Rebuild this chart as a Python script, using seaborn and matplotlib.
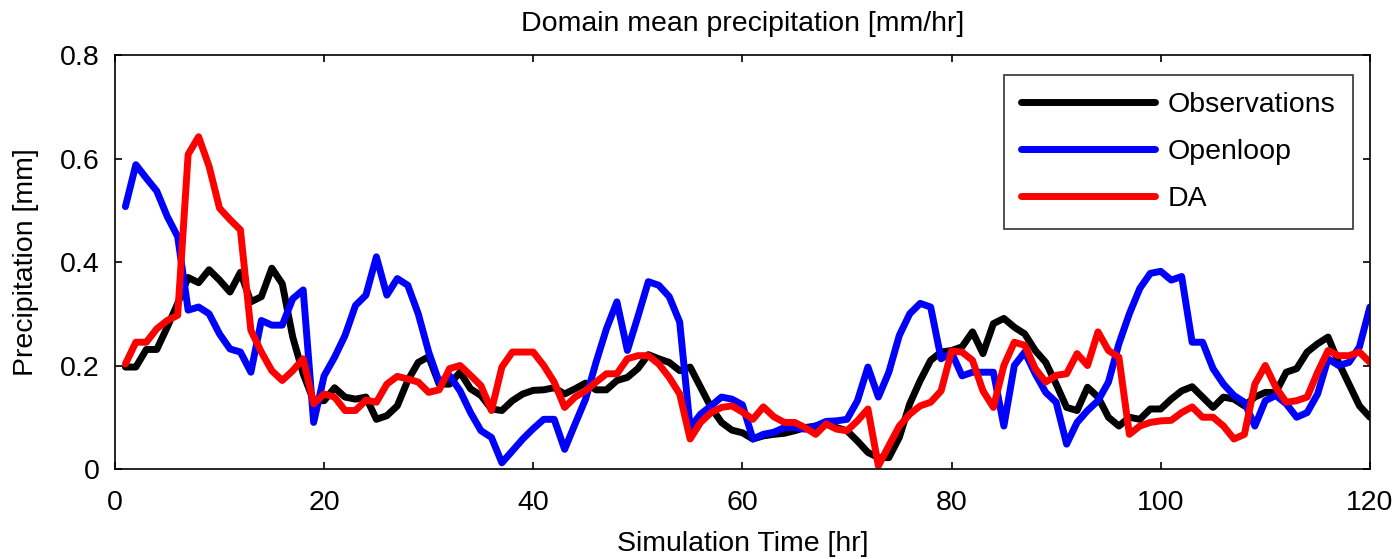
import numpy as np
import pandas as pd
import matplotlib
matplotlib.use("Agg")
import matplotlib.pyplot as plt
import seaborn as sns

# Simulation hours 1..120
hours = list(range(1, 121))

observations = [
    0.197, 0.197, 0.231, 0.231, 0.274, 0.320, 0.370, 0.360, 0.385, 0.365,
    0.342, 0.380, 0.323, 0.333, 0.388, 0.358, 0.255, 0.184, 0.132, 0.132,
    0.157, 0.139, 0.135, 0.139, 0.096, 0.103, 0.122, 0.171, 0.206, 0.217,
    0.164, 0.164, 0.187, 0.155, 0.142, 0.116, 0.113, 0.132, 0.145, 0.152,
    0.153, 0.157, 0.145, 0.155, 0.166, 0.153, 0.153, 0.171, 0.177, 0.194,
    0.221, 0.213, 0.206, 0.190, 0.197, 0.158, 0.119, 0.090, 0.075, 0.070,
    0.058, 0.064, 0.067, 0.069, 0.074, 0.080, 0.083, 0.087, 0.080, 0.074,
    0.054, 0.032, 0.022, 0.022, 0.061, 0.126, 0.171, 0.210, 0.226, 0.229,
    0.236, 0.265, 0.223, 0.281, 0.291, 0.274, 0.261, 0.229, 0.206, 0.164,
    0.119, 0.113, 0.158, 0.139, 0.100, 0.083, 0.100, 0.096, 0.116, 0.116,
    0.135, 0.151, 0.159, 0.139, 0.119, 0.139, 0.135, 0.122, 0.139, 0.148,
    0.148, 0.187, 0.194, 0.226, 0.242, 0.255, 0.206, 0.164, 0.122, 0.100,
]

openloop = [
    0.507, 0.588, 0.562, 0.537, 0.488, 0.449, 0.307, 0.313, 0.300, 0.261,
    0.232, 0.226, 0.187, 0.287, 0.278, 0.278, 0.329, 0.346, 0.090, 0.180,
    0.216, 0.258, 0.316, 0.336, 0.410, 0.336, 0.368, 0.355, 0.300, 0.226,
    0.168, 0.180, 0.151, 0.109, 0.074, 0.061, 0.012, 0.035, 0.058, 0.078,
    0.096, 0.096, 0.038, 0.087, 0.135, 0.206, 0.271, 0.323, 0.229, 0.294,
    0.362, 0.355, 0.333, 0.284, 0.080, 0.106, 0.122, 0.139, 0.135, 0.124,
    0.058, 0.067, 0.071, 0.080, 0.080, 0.077, 0.083, 0.092, 0.093, 0.096,
    0.132, 0.197, 0.139, 0.187, 0.258, 0.300, 0.320, 0.313, 0.213, 0.225,
    0.180, 0.187, 0.187, 0.187, 0.083, 0.200, 0.226, 0.184, 0.148, 0.129,
    0.048, 0.090, 0.113, 0.132, 0.168, 0.242, 0.300, 0.349, 0.378, 0.382,
    0.365, 0.372, 0.245, 0.245, 0.194, 0.164, 0.142, 0.129, 0.083, 0.132,
    0.142, 0.126, 0.100, 0.109, 0.145, 0.213, 0.200, 0.206, 0.236, 0.313,
]

assimilation = [
    0.203, 0.245, 0.245, 0.271, 0.287, 0.297, 0.608, 0.642, 0.585, 0.504,
    0.482, 0.462, 0.268, 0.226, 0.190, 0.171, 0.190, 0.213, 0.126, 0.145,
    0.139, 0.113, 0.113, 0.133, 0.129, 0.164, 0.179, 0.174, 0.168, 0.148,
    0.153, 0.194, 0.200, 0.181, 0.161, 0.113, 0.197, 0.226, 0.226, 0.226,
    0.200, 0.168, 0.119, 0.139, 0.151, 0.168, 0.184, 0.184, 0.213, 0.219,
    0.219, 0.203, 0.177, 0.145, 0.058, 0.090, 0.109, 0.119, 0.122, 0.110,
    0.096, 0.120, 0.101, 0.090, 0.090, 0.080, 0.067, 0.087, 0.077, 0.074,
    0.093, 0.116, 0.006, 0.045, 0.083, 0.106, 0.122, 0.129, 0.151, 0.228,
    0.226, 0.210, 0.151, 0.119, 0.200, 0.245, 0.239, 0.194, 0.168, 0.181,
    0.184, 0.223, 0.200, 0.265, 0.229, 0.216, 0.067, 0.083, 0.090, 0.093,
    0.094, 0.109, 0.120, 0.100, 0.100, 0.083, 0.058, 0.067, 0.164, 0.200,
    0.158, 0.129, 0.132, 0.139, 0.187, 0.229, 0.219, 0.219, 0.226, 0.206,
]

series_names = ["Observations", "Openloop", "DA"]
series_colors = ["#000000", "#0000ff", "#ff0000"]
x_ticks = [0, 20, 40, 60, 80, 100, 120]
y_ticks = [0, 0.2, 0.4, 0.6, 0.8]
y_tick_labels = ["0", "0.2", "0.4", "0.6", "0.8"]

df = pd.DataFrame({
    "hour": hours * 3,
    "value": observations + openloop + assimilation,
    "series": sum([[n] * len(hours) for n in series_names], []),
})

sns.set_style("white")
plt.rcParams["font.family"] = ["Liberation Sans", "DejaVu Sans"]
plt.rcParams["text.color"] = "black"
plt.rcParams["axes.labelcolor"] = "black"
plt.rcParams["xtick.color"] = "black"
plt.rcParams["ytick.color"] = "black"

FS = 20.5

fig = plt.figure(figsize=(14, 5.59), dpi=100)
ax = fig.add_axes([0.0821, 0.161, 0.8964, 0.7406])

sns.lineplot(data=df, x="hour", y="value", hue="series",
             hue_order=series_names,
             palette=dict(zip(series_names, series_colors)),
             linewidth=5, ax=ax, legend=True)

ax.set_xlim(0, 120)
ax.set_ylim(0, 0.8)
ax.set_xticks(x_ticks)
ax.set_xticklabels([str(t) for t in x_ticks])
ax.set_yticks(y_ticks)
ax.set_yticklabels(y_tick_labels)

for side in ["left", "right", "top", "bottom"]:
    ax.spines[side].set_visible(True)
    ax.spines[side].set_color("black")
    ax.spines[side].set_linewidth(1.2)

ax.tick_params(direction="in", length=5, width=1.2, colors="black",
               labelsize=FS, top=True, right=True, left=True, bottom=True)
ax.tick_params(axis="x", pad=15)
ax.tick_params(axis="y", pad=11)

ax.set_title("Domain mean precipitation [mm/hr]", fontsize=FS, pad=17,
             color="black")
ax.set_xlabel("Simulation Time [hr]", fontsize=FS, labelpad=11, color="black")
ax.set_ylabel("Precipitation [mm]", fontsize=FS, labelpad=15, color="black")

handles, labels = ax.get_legend_handles_labels()
leg = ax.legend(handles, labels, loc="upper right",
                bbox_to_anchor=(0.9865, 0.9517), fontsize=FS,
                frameon=True, fancybox=False, edgecolor="black",
                handlelength=4.7, handletextpad=0.45, borderpad=0.6,
                labelspacing=0.73, borderaxespad=0)
leg.get_frame().set_linewidth(1.2)
for line in leg.get_lines():
    line.set_linewidth(5)
for txt in leg.get_texts():
    txt.set_color("black")

fig.savefig("out.png", dpi=100, facecolor="white")
